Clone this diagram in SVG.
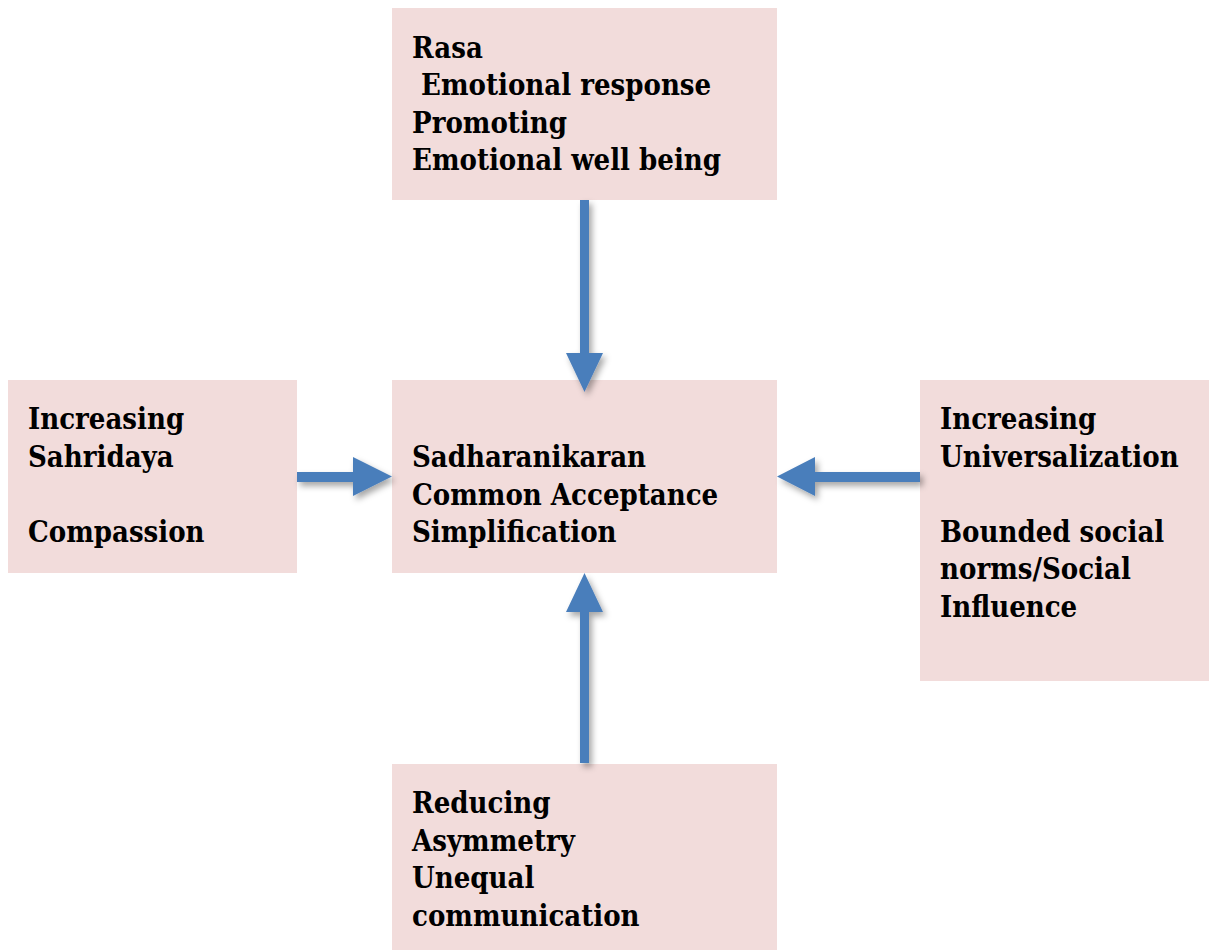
<svg xmlns="http://www.w3.org/2000/svg" width="1215" height="950" viewBox="0 0 1215 950">
<defs>
<style>
.box{fill:#f2dcdb;}
.t{font-family:"DejaVu Serif Condensed","DejaVu Serif","Liberation Serif",serif;font-weight:bold;font-size:29px;fill:#000;}
.arr{fill:#4a7ebb;}
</style>
<filter id="sh" x="-50%" y="-50%" width="200%" height="200%">
<feDropShadow dx="3" dy="4" stdDeviation="3" flood-color="#000" flood-opacity="0.35"/>
</filter>
</defs>
<rect width="1215" height="950" fill="#fff"/>
<g id="node-top">
<rect class="box" x="392" y="8" width="385" height="192"/>
<text class="t" x="412" y="58">Rasa</text>
<text class="t" x="412" y="95" xml:space="preserve"> Emotional response</text>
<text class="t" x="412" y="133">Promoting</text>
<text class="t" x="412" y="170">Emotional well being</text>
</g>
<g id="node-center">
<rect class="box" x="392" y="380" width="385" height="193"/>
<text class="t" x="412" y="467">Sadharanikaran</text>
<text class="t" x="412" y="505">Common Acceptance</text>
<text class="t" x="412" y="542">Simplification</text>
</g>
<g id="node-left">
<rect class="box" x="8" y="380" width="289" height="193"/>
<text class="t" x="28" y="429">Increasing</text>
<text class="t" x="28" y="467">Sahridaya</text>
<text class="t" x="28" y="542">Compassion</text>
</g>
<g id="node-right">
<rect class="box" x="920" y="380" width="289" height="301"/>
<text class="t" x="940" y="429">Increasing</text>
<text class="t" x="940" y="467">Universalization</text>
<text class="t" x="940" y="542">Bounded social</text>
<text class="t" x="940" y="579">norms/Social</text>
<text class="t" x="940" y="617">Influence</text>
</g>
<g id="node-bottom">
<rect class="box" x="392" y="764" width="385" height="186"/>
<text class="t" x="412" y="813">Reducing</text>
<text class="t" x="412" y="851">Asymmetry</text>
<text class="t" x="412" y="888">Unequal</text>
<text class="t" x="412" y="926">communication</text>
</g>
<g id="connectors" filter="url(#sh)">
<polygon class="arr" points="580,200 589,200 589,353 603,353 584.5,392 566,353 580,353"/>
<polygon class="arr" points="580,763 589,763 589,612 603,612 584.5,573 566,612 580,612"/>
<polygon class="arr" points="297,472 353,472 353,457 392,476.5 353,496 353,482 297,482"/>
<polygon class="arr" points="920,472 815,472 815,457 777,476.5 815,496 815,482 920,482"/>
</g>
</svg>
